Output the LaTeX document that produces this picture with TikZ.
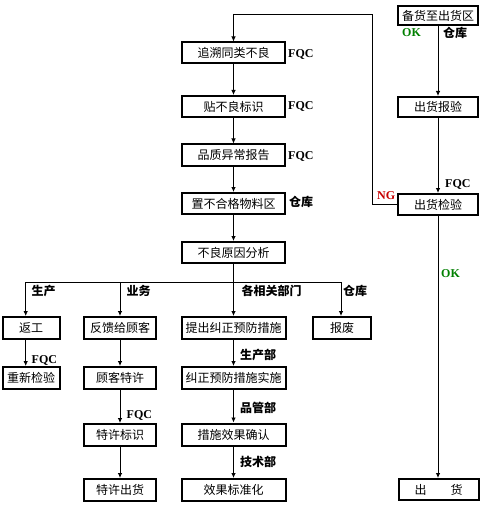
\documentclass[tikz,border=0pt]{standalone}
\usepackage{fontspec}
\setmainfont{Liberation Serif}
\newfontfamily\cjk{Noto Sans CJK SC}
\usetikzlibrary{arrows.meta}
\begin{document}
\begin{tikzpicture}[x=1pt,y=-1pt,
  box/.style={draw,line width=2pt,inner sep=0pt,font=\cjk\fontsize{12}{12}\selectfont},
  wbox/.style={box,minimum width=103pt,minimum height=21pt},
  rbox/.style={box,minimum width=80pt,minimum height=20pt},
  lab/.style={anchor=west,inner sep=0pt,font=\cjk\bfseries\fontsize{12}{12}\selectfont},
  elab/.style={anchor=west,inner sep=0pt,font=\bfseries\fontsize{12}{12}\selectfont},
  arr/.style={line width=0.8pt,-{Latex[length=5pt,width=4.5pt]}},
  ln/.style={line width=0.8pt}]
\useasboundingbox[fill=white] (0,0) rectangle (481,505);
% central chain
\node[wbox] (zs) at (233.5,53) {追溯同类不良};
\node[wbox] (tb) at (233.5,106.5) {贴不良标识};
\node[wbox] (pz) at (233.5,155) {品质异常报告};
\node[wbox] (zb) at (233.5,203.5) {置不合格物料区};
\node[wbox] (bl) at (233.5,252.5) {不良原因分析};
% right chain
\node[rbox,minimum height=19pt] (bh) at (438,16) {备货至出货区};
\node[rbox] (ch) at (438,107) {出货报验};
\node[rbox,minimum height=21pt] (cj) at (438,204.5) {出货检验};
\node[rbox,minimum height=21pt] (chu) at (438.5,489.5) {出\hspace{24pt}货};
% branches
\node[box,minimum width=57pt,minimum height=22pt] (fg) at (31,328) {返工};
\node[box,minimum width=57pt,minimum height=22pt] (cx) at (31,378) {重新检验};
\node[box,minimum width=72pt,minimum height=22pt] (fk) at (120,328) {反馈给顾客};
\node[box,minimum width=72pt,minimum height=22pt] (gk) at (120,378) {顾客特许};
\node[box,minimum width=72pt,minimum height=22pt] (ts) at (120,435) {特许标识};
\node[box,minimum width=72pt,minimum height=22pt] (tc) at (120,490) {特许出货};
\node[box,minimum width=104pt,minimum height=22pt] (tj) at (233.5,328) {提出纠正预防措施};
\node[box,minimum width=104pt,minimum height=22pt] (js) at (233.5,378) {纠正预防措施实施};
\node[box,minimum width=104pt,minimum height=22pt] (cs) at (233.5,434.5) {措施效果确认};
\node[box,minimum width=104pt,minimum height=22pt] (xg) at (233.5,490) {效果标准化};
\node[box,minimum width=58pt,minimum height=22pt] (bf) at (342,328) {报废};
% connectors central
\draw[arr] (zs) -- (tb);
\draw[arr] (tb) -- (pz);
\draw[arr] (pz) -- (zb);
\draw[arr] (zb) -- (bl);
\coordinate (split) at (233.5,282);
\draw[arr] (bl) -- (tj);
\draw[arr] (split) -| ([xshift=-5.3pt]fg.north);
\draw[arr] (split) -| (fk.north);
\draw[arr] (split) -| ([xshift=-1pt]bf.north);
\draw[arr] ([xshift=-5.3pt]fg.south) -- ([xshift=-5.3pt]cx.north);
\draw[arr] (fk) -- (gk);
\draw[arr] (gk) -- (ts);
\draw[arr] (ts) -- (tc);
\draw[arr] (tj) -- (js);
\draw[arr] (js) -- (cs);
\draw[arr] (cs) -- (xg);
% right
\draw[arr] (bh) -- (ch);
\draw[arr] (ch) -- (cj);
\draw[arr] (cj.south) -- (chu.north -| cj.south);
\coordinate (lp1) at (372,204.5);
\coordinate (lp2) at (372,14);
\coordinate (lp3) at (233.5,14);
\draw[ln] (cj.west) -- (lp1) -- (lp2) -- (lp3);
\draw[arr] (lp3) -- (zs.north);
% labels
\node[elab] (l1) at (288,55) {FQC};
\node[elab] (l2) at (288,106.5) {FQC};
\node[elab] (l3) at (288,156.5) {FQC};
\node[lab] (l4) at (289,202) {仓库};
\node[elab,text={rgb,255:red,0;green,128;blue,0}] (l5) at (402,33) {OK};
\node[lab] (l6) at (443,33) {仓库};
\node[elab] (l7) at (445,184.5) {FQC};
\node[elab,text={rgb,255:red,200;green,0;blue,0}] (l8) at (377,196) {NG};
\node[elab,text={rgb,255:red,0;green,128;blue,0}] (l9) at (441,273.5) {OK};
\node[lab] (l10) at (31.5,290.5) {生产};
\node[lab] (l11) at (126.5,290.5) {业务};
\node[lab] (l12) at (241.5,291) {各相关部门};
\node[lab] (l13) at (343,291) {仓库};
\node[elab] (l14) at (31.5,360) {FQC};
\node[lab] (l15) at (240,355) {生产部};
\node[elab] (l16) at (126.5,415) {FQC};
\node[lab] (l17) at (240,408) {品管部};
\node[lab] (l18) at (240,462) {技术部};
\end{tikzpicture}
\end{document}
